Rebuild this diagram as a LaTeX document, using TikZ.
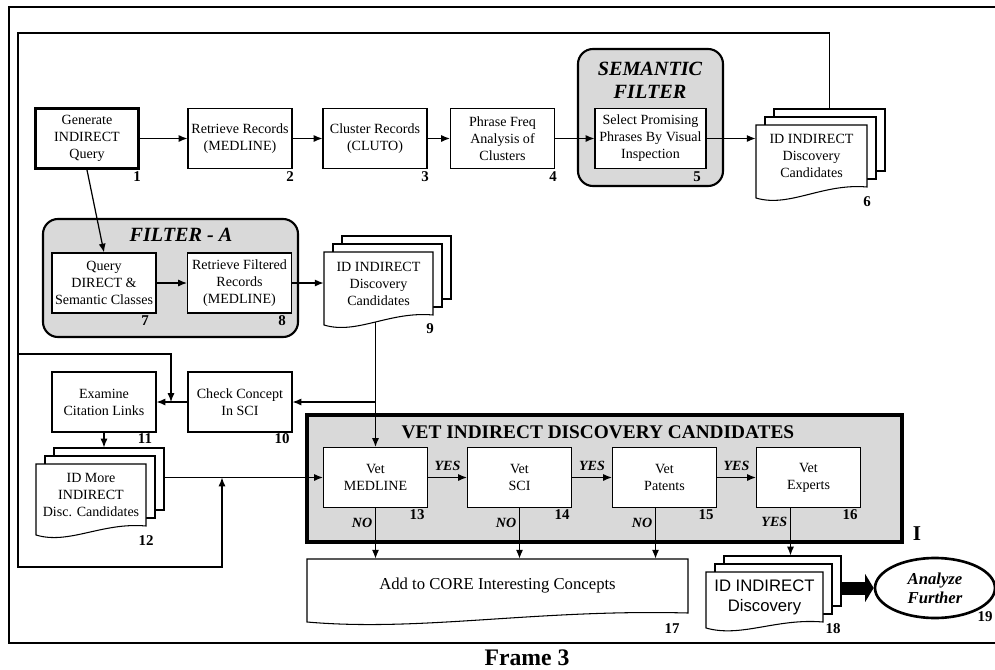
\documentclass[tikz,border=0pt]{standalone}
\usepackage{fontspec}
\setmainfont{Liberation Serif}
\setsansfont{Liberation Sans}
\usepackage{tikz}
\usetikzlibrary{shapes,arrows,arrows.meta}

\definecolor{panel}{gray}{0.85}

% front page of a document stack, wavy bottom
\newcommand{\docpage}[5]{%
  \draw[fill=white, line width=0.6pt] (#1,#4+#5) -- (#1,#2) -- (#3,#2) -- (#3,#4)
    .. controls ({#3-0.4*(#3-#1)},{#4-4}) and ({#1+0.3*(#3-#1)},{#4+#5+10}) .. (#1,#4+#5) -- cycle;}

\begin{document}
\begin{tikzpicture}
  [x=0.02cm, y=-0.02cm,
   box/.style = {draw, fill=white, line width=0.6pt, minimum width=2.08cm, minimum height=1.2cm,
                 align=center, inner sep=1pt, font=\fontsize{8}{9.7}\selectfont},
   page/.style = {draw, fill=white, line width=0.6pt, inner sep=0pt},
   doctext/.style = {align=center, inner sep=0pt, font=\fontsize{8}{9.7}\selectfont},
   num/.style = {font=\fontsize{8.5}{9}\selectfont\bfseries, inner sep=0pt},
   answer/.style = {font=\fontsize{8}{9}\selectfont\bfseries\itshape, inner sep=1.5pt},
   group/.style = {draw, fill=panel, line width=1.2pt, rounded corners=0.3cm},
   title/.style = {font=\fontsize{11.5}{13}\selectfont\bfseries\itshape, align=center},
   link/.style = {line width=0.7pt, -{Latex[length=5pt,width=4pt]}}
  ]
  \useasboundingbox (0,0) rectangle (995,670);

  % frame and panels
  \draw[line width=1.2pt] (995,7) -- (9,7) -- (9,643) -- (995,643);
  \draw[group] (578,49) rectangle (723,186);
  \draw[group] (43,219) rectangle (298,337);
  \draw[line width=2pt, fill=panel] (307,415) rectangle (902,542);

  \node[title] (tsem) at (650,80) {SEMANTIC\\FILTER};
  \node[title] (tfa) at (181,235) {FILTER - A};
  \node[font=\fontsize{11}{13}\selectfont\bfseries] (tvet) at (598,432) {VET INDIRECT DISCOVERY CANDIDATES};
  \node[font=\fontsize{13.5}{15}\selectfont\bfseries, inner sep=0pt] (tframe) at (527,658) {Frame 3};

  % steps
  \node[box, line width=1.7pt] (n1) at (87,138.5) {Generate\\INDIRECT\\Query};
  \node[box] (n2) at (240,138.5) {Retrieve Records\\(MEDLINE)};
  \node[box] (n3) at (375,138.5) {Cluster Records\\(CLUTO)};
  \node[box] (n4) at (502.5,138.5) {Phrase Freq\\Analysis of\\Clusters};
  \node[box, minimum width=2.22cm] (n5) at (650.5,138.5) {Select Promising\\Phrases By Visual\\Inspection};
  \node[box] (n7) at (104,283) {Query\\DIRECT \&\\Semantic Classes};
  \node[box] (n8) at (239.5,283) {Retrieve Filtered\\Records\\(MEDLINE)};
  \node[box] (n10) at (240,402) {Check Concept\\In SCI};
  \node[box] (n11) at (104,402) {Examine\\Citation Links};
  \node[box] (n13) at (375.5,477.5) {Vet\\MEDLINE};
  \node[box] (n14) at (519.5,477.5) {Vet\\SCI};
  \node[box] (n15) at (664.5,477.5) {Vet\\Patents};
  \node[box] (n16) at (808.5,477.5) {Vet\\Experts};

  % document stacks
  \node[page, minimum width=2.22cm, minimum height=1.24cm] (s6a) at (829.5,140) {};
  \node[page, minimum width=2.22cm, minimum height=1.24cm] (s6b) at (820.5,148) {};
  \docpage{756}{125}{867}{187}{11}
  \node[doctext, minimum width=2.22cm, minimum height=1.24cm] (s6) at (811.5,156) {ID INDIRECT\\Discovery\\Candidates};

  \node[page, minimum width=2.18cm, minimum height=1.26cm] (s9a) at (396.5,267.5) {};
  \node[page, minimum width=2.18cm, minimum height=1.26cm] (s9b) at (387.5,275.5) {};
  \docpage{324}{252}{433}{315}{10}
  \node[doctext, minimum width=2.18cm, minimum height=1.26cm] (s9) at (378.5,283.5) {ID INDIRECT\\Discovery\\Candidates};

  \node[page, minimum width=2.2cm, minimum height=1.24cm] (s12a) at (109,479) {};
  \node[page, minimum width=2.2cm, minimum height=1.24cm] (s12b) at (100,487) {};
  \docpage{36}{464}{146}{526}{9}
  \node[doctext, minimum width=2.2cm, minimum height=1.24cm] (s12) at (91,495) {ID More\\INDIRECT\\Disc. Candidates};

  \node[page, minimum width=2.34cm, minimum height=1cm] (s18a) at (782.5,581) {};
  \node[page, minimum width=2.34cm, minimum height=1cm] (s18b) at (773.5,589) {};
  \docpage{706}{572}{823}{622}{6}
  \node[doctext, minimum width=2.34cm, minimum height=1cm, font=\fontsize{9.5}{11.4}\selectfont\sffamily] (s18) at (764.5,597) {ID INDIRECT\\Discovery};

  \docpage{307}{559}{688}{613}{9}
  \node[minimum width=7.62cm, minimum height=1.08cm, inner sep=0pt, font=\fontsize{9.5}{11}\selectfont] (n17) at (497.5,586) {Add to CORE Interesting Concepts};

  \node[ellipse, draw, line width=1.5pt, minimum width=2.4cm, minimum height=1.2cm, inner sep=0pt, align=center,
        font=\fontsize{9.5}{11}\selectfont\bfseries\itshape] (n19) at (935,588) {Analyze\\Further};

  % connectors
  \draw[link] (n1) -- (n2);
  \draw[link] (n2) -- (n3);
  \draw[link] (n3) -- (n4);
  \draw[link] (n4) -- (n5);
  \draw[link] (n5.east) -- (n5.east -| s6.west);
  \draw[link] (n1.south) -- (n7.north);
  \draw[link] (n7) -- (n8);
  \draw[link] (n8.east) -- (n8.east -| s9.west);
  \coordinate (s9out) at (375.5,322);
  \draw[link] (s9out) -- (n13.north);
  \draw[link] (n13.north |- n10) -- (n10.east);
  \draw[link] (n10) -- (n11);
  \draw[link] (n11.south) -- (n11.south |- s12a.north);
  \draw[link] (s12a.east |- n13) -- (n13.west);
  \coordinate (j12) at (222,477.5);
  \coordinate (j11) at (171,402);
  \draw[link] (s6a.north) |- (18,33) -- (18,567) -| (j12);
  \draw[link] (18,354) -| (j11);

  \draw[link] (n13) -- node[answer, above=2pt] (y1) {YES} (n14);
  \draw[link] (n14) -- node[answer, above=2pt] (y2) {YES} (n15);
  \draw[link] (n15) -- node[answer, above=2pt] (y3) {YES} (n16);
  \draw[link] (n13.south) -- node[answer, left, pos=0.3] (no1) {NO} (n13.south |- n17.north);
  \draw[link] (n14.south) -- node[answer, left, pos=0.3] (no2) {NO} (n14.south |- n17.north);
  \draw[link] ([xshift=-0.18cm]n15.south) -- node[answer, left, pos=0.3] (no3) {NO} ([xshift=-0.18cm]n15.south |- n17.north);
  \draw[link] ([xshift=-0.36cm]n16.south) -- node[answer, left, pos=0.3] (y4) {YES} ([xshift=-0.36cm]n16.south |- s18a.north);
  \draw[line width=0.26cm, -{Triangle[length=0.17cm,width=0.55cm]}] (s18a.east |- n19) -- (n19.west);

  % step numbers
  \node[num] (l1) at (137,177) {1};
  \node[num] (l2) at (290,177) {2};
  \node[num] (l3) at (425,177) {3};
  \node[num] (l4) at (553,177) {4};
  \node[num] (l5) at (697,177) {5};
  \node[num] (l6) at (867,202) {6};
  \node[num] (l7) at (145,321) {7};
  \node[num] (l8) at (282,321) {8};
  \node[num] (l9) at (430,329) {9};
  \node[num] (l10) at (282,439) {10};
  \node[num] (l11) at (145,439) {11};
  \node[num] (l12) at (146,541) {12};
  \node[num] (l13) at (417,515) {13};
  \node[num] (l14) at (562,515) {14};
  \node[num] (l15) at (706,515) {15};
  \node[num] (l16) at (850,515) {16};
  \node[num] (l17) at (672,629) {17};
  \node[num] (l18) at (833,629) {18};
  \node[num] (l19) at (985,617) {19};
  \node[font=\fontsize{12}{13}\selectfont\bfseries] (lI) at (917,534) {I};
\end{tikzpicture}
\end{document}
